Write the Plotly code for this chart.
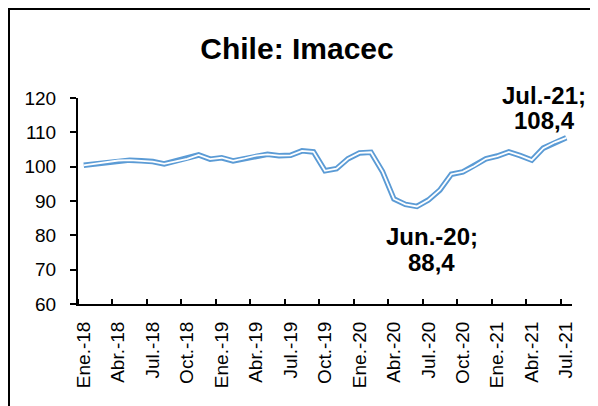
import plotly.graph_objects as go

# Imacec mensual, Ene.-18 a Jul.-21
meses = ["Ene", "Feb", "Mar", "Abr", "May", "Jun", "Jul", "Ago", "Sep", "Oct", "Nov", "Dic"]
anios = ["18", "19", "20", "21"]
categorias = [m + ".-" + a for a in anios for m in meses][:43]

imacec = [100.4, 100.8, 101.2, 101.8, 101.9, 101.7, 101.5, 100.8, 101.6, 102.3,
          103.4, 102.2, 102.6, 101.7, 102.4, 103.2, 103.6, 103.2, 103.3, 104.6,
          104.3, 98.8, 99.4, 102.3, 104.0, 104.2, 98.6, 90.6, 89.0, 88.4,
          90.3, 93.2, 97.8, 98.5, 100.2, 102.3, 103.1, 104.3, 103.2, 101.9,
          105.4, 107.1, 108.4]

etiquetas_x = categorias[::3]
etiquetas_y = [60, 70, 80, 90, 100, 110, 120]

# puntos destacados
destacados = ["Jun.-20", "Jul.-21"]

colors = {'linea': '#5B9BD5', 'texto': 'black', 'fondo': 'white'}
fuente = "Arial, Liberation Sans, sans-serif"

x = list(range(len(categorias)))

fig = go.Figure()
# línea doble (estilo Excel): trazo azul ancho con trazo blanco encima
fig.add_trace(go.Scatter(x=x, y=imacec, mode="lines",
                         line=dict(color=colors['linea'], width=5.5), hoverinfo="skip"))
fig.add_trace(go.Scatter(x=x, y=imacec, mode="lines",
                         line=dict(color=colors['fondo'], width=1.8),
                         text=categorias, hovertemplate="%{text}: %{y}<extra></extra>"))

# desplazamiento (px) del centro de cada línea de texto respecto al punto
offsets = {"Jun.-20": (15, 30, 56), "Jul.-21": (-22, -42, -17)}
for cat in destacados:
    i = categorias.index(cat)
    dx, dy1, dy2 = offsets[cat]
    for txt, dy in ((cat + ";", dy1), (str(imacec[i]).replace(".", ","), dy2)):
        fig.add_annotation(x=i, y=imacec[i], text="<b>%s</b>" % txt,
                           showarrow=False, xshift=dx, yshift=-dy,
                           font=dict(size=24, color=colors['texto'], family=fuente))

fig.update_layout(
    width=598, height=406,
    margin=dict(l=70, r=34, t=90, b=110),
    paper_bgcolor=colors['fondo'], plot_bgcolor=colors['fondo'],
    showlegend=False,
    font=dict(family=fuente, color=colors['texto'], size=19),
    title=dict(text="<b>Chile: Imacec</b>", xref="container", yref="container",
               x=289 / 598, y=1 - 40 / 406, xanchor="center", yanchor="middle",
               font=dict(size=30, color=colors['texto'], family=fuente)),
    xaxis=dict(range=[-0.5, len(categorias) - 0.5],
               tickmode="array", tickvals=x[::3], ticktext=etiquetas_x,
               ticks="", tickangle=-90, ticklabelstandoff=8,
               showline=True, linecolor="black", linewidth=2, showgrid=False, zeroline=False,
               minor=dict(tickmode="array", tickvals=[v - 0.5 for v in x[::3]],
                          ticks="inside", ticklen=5, tickwidth=1.5, tickcolor="black")),
    yaxis=dict(range=[60, 120], tickmode="array", tickvals=etiquetas_y,
               ticks="outside", ticklen=6, tickwidth=1.5, tickcolor="black", ticklabelstandoff=10,
               showline=True, linecolor="black", linewidth=2, showgrid=False, zeroline=False),
    # marco del gráfico
    shapes=[dict(type="rect", xref="paper", yref="paper",
                 x0=-69 / 494, x1=1.2, y0=-0.6, y1=1 + 89 / 206,
                 line=dict(color="black", width=2), fillcolor="rgba(0,0,0,0)", layer="below")],
)

fig.write_html("out.html")
